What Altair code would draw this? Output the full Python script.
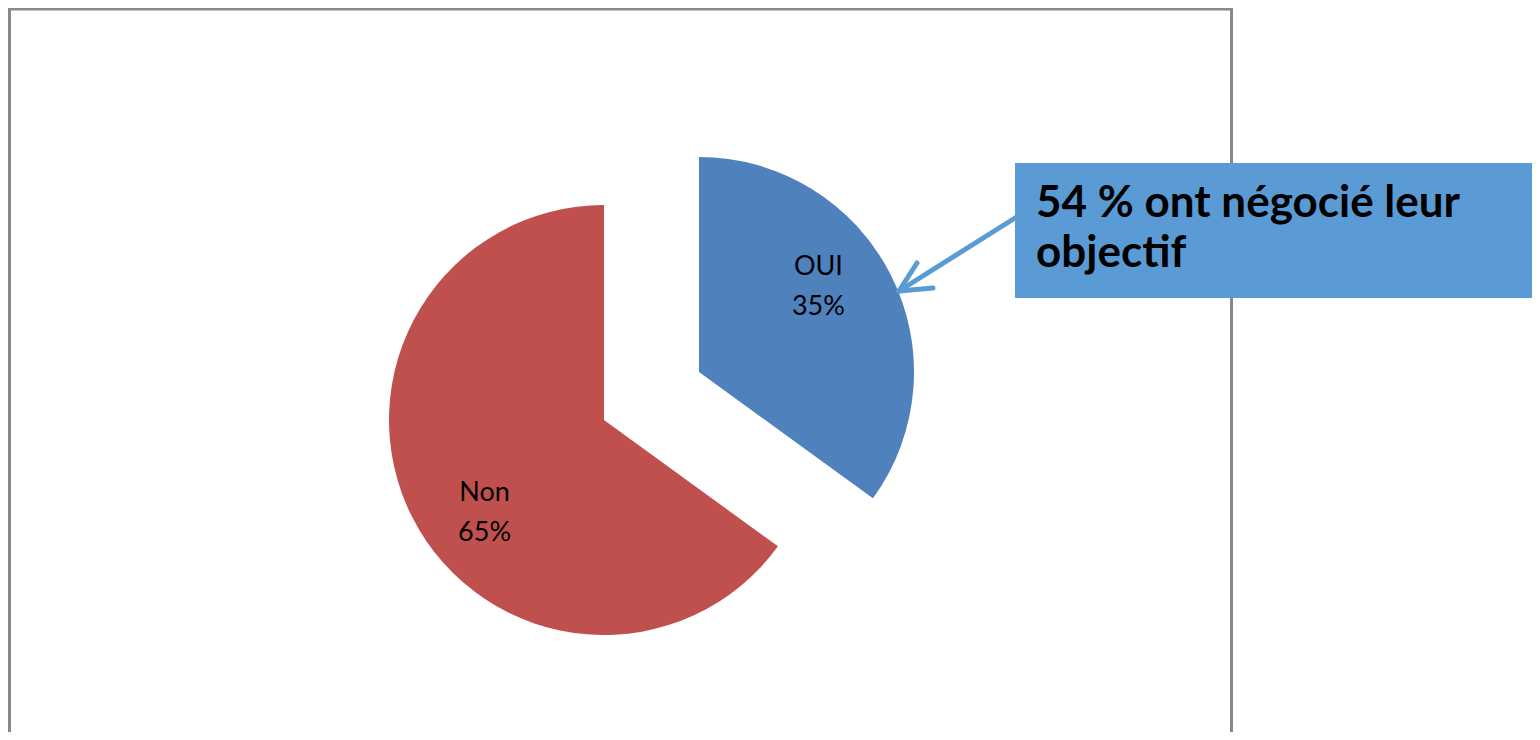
import math
import altair as alt
import pandas as pd

categories = ["OUI", "Non"]
values = [35, 65]
pct_labels = ["35%", "65%"]
callout_lines = ["54 % ont négocié leur", "objectif"]

df = pd.DataFrame({"category": categories, "value": values, "pct": pct_labels,
                   "idx": list(range(len(categories)))})
one = pd.DataFrame({"k": [0]})

BLUE = "#4F81BD"
RED = "#C0504D"
BOX = "#5B9BD5"
FONT = "Lato"
TWO_PI = 2 * math.pi

CX, CY = 596, 412          # centre of the pie (plot coords)
EX, EY = 95, -48           # explosion offset for OUI
R = 215
LR = 149
LROT = 0.17                # label placement rotation (radians)

base = (
    alt.Chart(df)
    .transform_window(cum="sum(value)", sort=[alt.SortField("idx")], frame=[None, 0])
    .transform_calculate(
        start="datum.cum - datum.value",
        end="datum.cum",
        mid="datum.cum - datum.value/2",
        off="datum.category == 'OUI' ? 1 : 0",
    )
    .transform_calculate(
        cx=f"{CX} + datum.off*{EX}",
        cy=f"{CY} + datum.off*({EY})",
        ang=f"datum.mid/100*{TWO_PI} - {LROT}",
    )
    .transform_calculate(
        lx=f"datum.cx + {LR}*sin(datum.ang)",
        ly=f"datum.cy - {LR}*cos(datum.ang)",
        label="datum.category + '\\n' + datum.pct",
    )
)

theta_scale = alt.Scale(domain=[0, 100], range=[0, TWO_PI])

arcs = base.mark_arc(radius=R, stroke=None).encode(
    x=alt.X("cx:Q", scale=None),
    y=alt.Y("cy:Q", scale=None),
    theta=alt.Theta("start:Q", scale=theta_scale),
    theta2="end:Q",
    color=alt.Color("category:N", scale=alt.Scale(domain=categories, range=[BLUE, RED]), legend=None),
)

labels = base.mark_text(font=FONT, fontSize=27, color="#000000", lineBreak="\n",
                        lineHeight=40, align="center", baseline="middle", dy=-16).encode(
    x=alt.X("lx:Q", scale=None),
    y=alt.Y("ly:Q", scale=None),
    text="label:N",
)

border = alt.Chart(one).mark_rect(fill=None, stroke="#888888", strokeWidth=3).encode(
    x=alt.value(1.5), x2=alt.value(1223.5), y=alt.value(1), y2=alt.value(740)
)

box = alt.Chart(one).mark_rect(color=BOX).encode(
    x=alt.value(1007), x2=alt.value(1532), y=alt.value(155), y2=alt.value(290)
)

box_text = alt.Chart(pd.DataFrame({"t": ["\n".join(callout_lines)]})).mark_text(
    font=FONT, fontSize=44, fontWeight="bold", color="#000000", lineBreak="\n",
    lineHeight=50, align="left", baseline="alphabetic"
).encode(x=alt.value(1028), y=alt.value(209), text="t:N")

arrow_style = dict(color=BOX, strokeWidth=5, strokeCap="round")
shaft = alt.Chart(one).mark_rule(**arrow_style).encode(
    x=alt.value(1007), y=alt.value(210), x2=alt.value(891), y2=alt.value(283))
barb1 = alt.Chart(one).mark_rule(**arrow_style).encode(
    x=alt.value(891), y=alt.value(283), x2=alt.value(909), y2=alt.value(255))
barb2 = alt.Chart(one).mark_rule(**arrow_style).encode(
    x=alt.value(891), y=alt.value(283), x2=alt.value(925), y2=alt.value(280))

chart = alt.layer(border, arcs, labels, shaft, barb1, barb2, box, box_text).properties(
    width=1524, height=724, padding=0, autosize=alt.AutoSizeParams(type="none")
).configure_view(stroke=None)

chart.save("out.html", embed_options={"renderer": "svg", "actions": False})
